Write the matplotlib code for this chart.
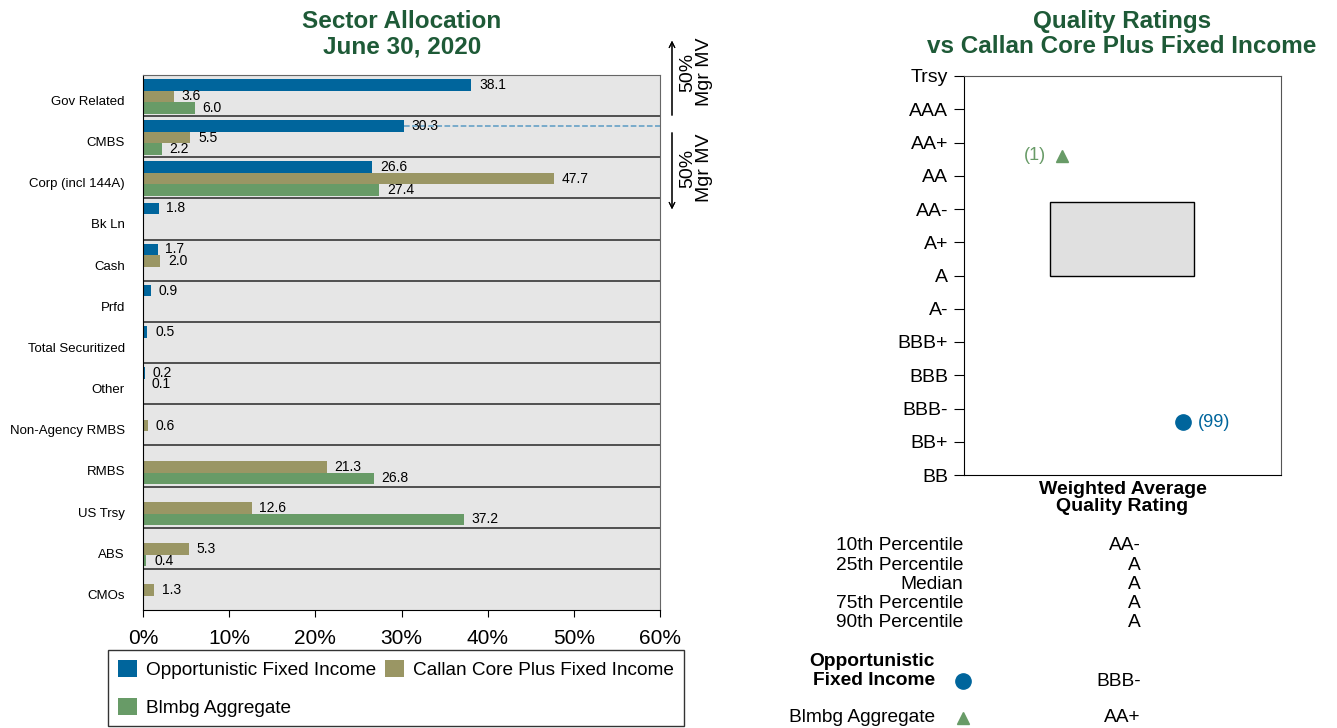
import numpy as np
import matplotlib.pyplot as plt
from matplotlib.patches import Rectangle, Patch
from matplotlib.lines import Line2D

plt.rcParams['font.family'] = ['Liberation Sans', 'DejaVu Sans']

# ---- sector allocation data
sectors = ['Gov Related', 'CMBS', 'Corp (incl 144A)', 'Bk Ln', 'Cash', 'Prfd',
           'Total Securitized', 'Other', 'Non-Agency RMBS', 'RMBS', 'US Trsy', 'ABS', 'CMOs']
opp_fi = [38.1, 30.3, 26.6, 1.8, 1.7, 0.9, 0.5, 0.2, 0.04, np.nan, np.nan, np.nan, np.nan]
callan_cp = [3.6, 5.5, 47.7, np.nan, 2.0, np.nan, np.nan, 0.1, 0.6, 21.3, 12.6, 5.3, 1.3]
blmbg_agg = [6.0, 2.2, 27.4, np.nan, np.nan, np.nan, np.nan, np.nan, np.nan, 26.8, 37.2, 0.4, np.nan]
series_names = ['Opportunistic Fixed Income', 'Callan Core Plus Fixed Income', 'Blmbg Aggregate']
pct_ticks = [0, 10, 20, 30, 40, 50, 60]

# ---- quality rating data
ratings = ['BB', 'BB+', 'BBB-', 'BBB', 'BBB+', 'A-', 'A', 'A+', 'AA-', 'AA', 'AA+', 'AAA', 'Trsy']
pctl_labels = ['10th Percentile', '25th Percentile', 'Median', '75th Percentile', '90th Percentile']
pctl_vals = [8.2, 6.0, 6.0, 6.0, 6.0]
pctl_text = ['AA-', 'A', 'A', 'A', 'A']
opp_rating, opp_rank, opp_text = 1.58, '(99)', 'BBB-'
agg_rating, agg_rank, agg_text = 9.6, '(1)', 'AA+'

BLUE = '#00659c'
TAN = '#9a9664'
GREEN = '#689b67'
TITLE = '#1e5a37'

W, H = 1337, 728
fig = plt.figure(figsize=(W / 100, H / 100), dpi=100)

def fx(px):
    return px / W

def fy(py):
    return 1 - py / H

# ================= left: sector allocation =================
ax = fig.add_axes([fx(143), fy(610), fx(660) - fx(143), fy(75) - fy(610)])
ax.set_facecolor('#e6e6e6')
n = len(sectors)
y = np.arange(n)
offsets = [0.24, 0.52, 0.80]
colors = [BLUE, TAN, GREEN]

# dashed marker at CMBS (50% of manager MV)
cmbs = sectors.index('CMBS')
ax.plot([opp_fi[cmbs], 60], [cmbs + offsets[0]] * 2, ls='--', color='#5b9bc4', lw=1.1, zorder=1)

for vals, off, c in zip([opp_fi, callan_cp, blmbg_agg], offsets, colors):
    vals = np.array(vals, dtype=float)
    ax.barh(y + off, np.nan_to_num(vals), height=0.28, color=c, edgecolor='none', zorder=2)
    for yi, v in zip(y, vals):
        if np.isnan(v) or round(v, 1) == 0:
            continue
        ax.text(v + 0.9, yi + off, f'{v:.1f}', va='center', ha='left', fontsize=10, zorder=3)

for b in range(1, n):
    ax.axhline(b, color='#444444', lw=1.3)
ax.set_xlim(0, 60)
ax.set_ylim(n, 0)
ax.set_yticks(y + 0.62)
ax.set_yticklabels(sectors, fontsize=9.5)
ax.tick_params(axis='y', length=0, pad=13)
ax.set_xticks(pct_ticks)
ax.set_xticklabels([f'{t}%' for t in pct_ticks], fontsize=15)
ax.tick_params(axis='x', length=5, direction='out', pad=9)
for s in ['top', 'right']:
    ax.spines[s].set_color('#666666')
ax.spines['left'].set_color('black')
ax.spines['bottom'].set_color('black')

fig.text(fx(402), fy(34), 'Sector Allocation\nJune 30, 2020', ha='center', va='center',
         fontsize=17.5, fontweight='bold', color=TITLE, linespacing=1.15)

# 50% Mgr MV arrows
fig.add_artist(plt.annotate('', xy=(fx(672), fy(38)), xytext=(fx(672), fy(118)),
                            xycoords='figure fraction', textcoords='figure fraction',
                            arrowprops=dict(arrowstyle='->', color='black', lw=0.8)))
fig.add_artist(plt.annotate('', xy=(fx(672), fy(212)), xytext=(fx(672), fy(130)),
                            xycoords='figure fraction', textcoords='figure fraction',
                            arrowprops=dict(arrowstyle='->', color='black', lw=0.8)))
for ty in [72, 168]:
    fig.text(fx(696), fy(ty), '50%\nMgr MV', rotation=90, ha='center', va='center',
             fontsize=14, linespacing=0.95)

handles = [Patch(facecolor=c, edgecolor='none') for c in colors]
order = [0, 2, 1]
fig.legend([handles[i] for i in order], [series_names[i] for i in order],
           loc='upper left', bbox_to_anchor=(fx(108), fy(650)),
           ncol=2, fontsize=13.7, frameon=True, fancybox=False, edgecolor='black',
           handlelength=1.0, handleheight=1.0, handletextpad=0.5, columnspacing=0.45,
           borderpad=0.5, labelspacing=1.0, borderaxespad=0)

# ================= right: quality ratings =================
ax2 = fig.add_axes([fx(964), fy(475), fx(1281) - fx(964), fy(76) - fy(475)])
ax2.set_xlim(0, 1)
ax2.set_ylim(0, len(ratings) - 1)
ax2.set_yticks(range(len(ratings)))
ax2.set_yticklabels(ratings, fontsize=14)
ax2.tick_params(axis='y', length=7.5, direction='out', pad=4)
ax2.set_xticks([])
for s in ['top', 'right']:
    ax2.spines[s].set_color('#555555')
ax2.add_patch(Rectangle((0.271, min(pctl_vals)), 0.455, max(pctl_vals) - min(pctl_vals),
                        facecolor='#e0e0e0', edgecolor='black', lw=1.0))
ax2.plot([0.309], [agg_rating], marker='^', color=GREEN, ms=9, ls='none')
ax2.text(0.26, agg_rating, agg_rank, color=GREEN, ha='right', va='center', fontsize=13)
ax2.plot([0.691], [opp_rating], marker='o', color=BLUE, ms=11, ls='none')
ax2.text(0.738, opp_rating, opp_rank, color=BLUE, ha='left', va='center', fontsize=13)
ax2.set_xlabel('Weighted Average\nQuality Rating', fontsize=14, fontweight='bold',
               labelpad=4, linespacing=1.0)

fig.text(fx(1122), fy(34), 'Quality Ratings\nvs Callan Core Plus Fixed Income', ha='center',
         va='center', fontsize=17.5, fontweight='bold', color=TITLE, linespacing=1.15)

# percentile table
for i, (lab, txt) in enumerate(zip(pctl_labels, pctl_text)):
    yy = fy(546 + 19.2 * i)
    fig.text(fx(963), yy, lab, ha='right', va='center', fontsize=13.8)
    fig.text(fx(1141), yy, txt, ha='right', va='center', fontsize=13.8)

fig.text(fx(935), fy(671), 'Opportunistic\nFixed Income', ha='right', va='center',
         fontsize=13.8, fontweight='bold', linespacing=1.1)
fig.add_artist(Line2D([fx(963)], [fy(681)], marker='o', color=BLUE, ms=11, ls='none'))
fig.text(fx(1141), fy(681), opp_text, ha='right', va='center', fontsize=13.8)

fig.text(fx(935), fy(718), 'Blmbg Aggregate', ha='right', va='center', fontsize=13.8)
fig.add_artist(Line2D([fx(963)], [fy(718)], marker='^', color=GREEN, ms=9, ls='none'))
fig.text(fx(1141), fy(718), agg_text, ha='right', va='center', fontsize=13.8)

fig.savefig('out.png', dpi=100)
